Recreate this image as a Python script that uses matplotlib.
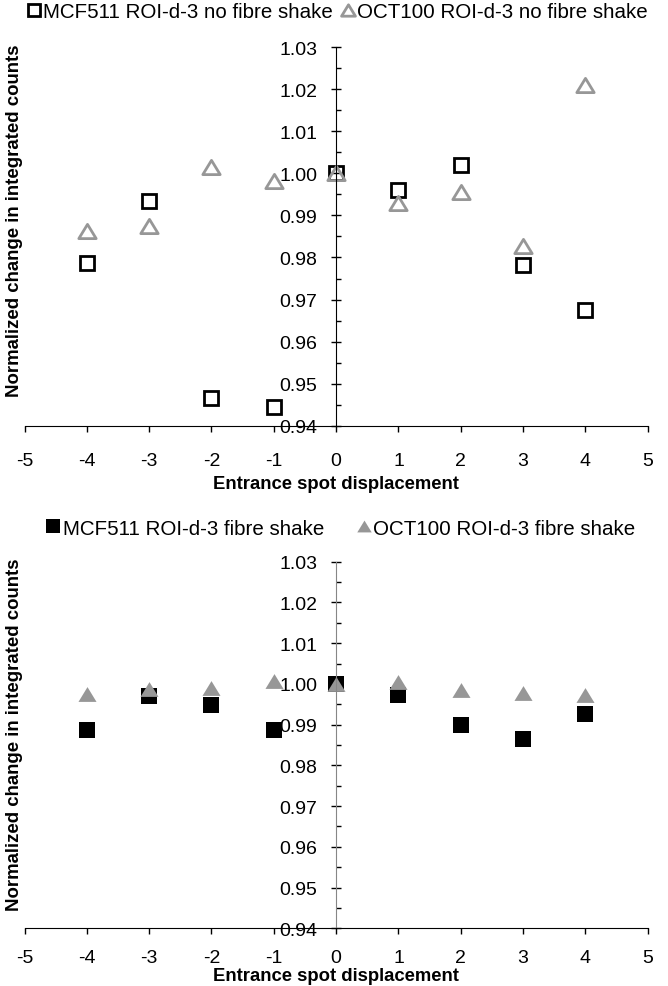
import numpy as np
import matplotlib
matplotlib.use('Agg')
import matplotlib.pyplot as plt
from matplotlib.path import Path
from matplotlib.ticker import FormatStrFormatter, MultipleLocator

plt.rcParams['font.family'] = ['Liberation Sans', 'DejaVu Sans']
plt.rcParams['axes.unicode_minus'] = False

displacement = [-4, -3, -2, -1, 0, 1, 2, 3, 4]
mcf_no_shake = [0.9786, 0.9935, 0.9466, 0.9444, 1.000, 0.9961, 1.0019, 0.9783, 0.9675]
oct_no_shake = [0.9863, 0.9874, 1.0016, 0.9982, 1.000, 0.9929, 0.9955, 0.9828, 1.0210]
mcf_shake = [0.9886, 0.9970, 0.9949, 0.9886, 1.000, 0.9972, 0.9900, 0.9865, 0.9927]
oct_shake = [0.9976, 0.9987, 0.9991, 1.0006, 1.000, 1.0005, 0.9986, 0.9978, 0.9973]

labels_top = ['MCF511 ROI-d-3 no fibre shake', 'OCT100 ROI-d-3 no fibre shake']
labels_bottom = ['MCF511 ROI-d-3 fibre shake', 'OCT100 ROI-d-3 fibre shake']

# slightly flattened triangle like the spreadsheet marker
tri = Path([(0, 0.82), (-1, -0.82), (1, -0.82), (0, 0.82)],
           [Path.MOVETO, Path.LINETO, Path.LINETO, Path.CLOSEPOLY])

GREY = '#979797'


def style_axes(ax, spine_color, xpad, xlabelpad):
    ax.set_xlim(-5, 5)
    ax.set_ylim(0.94, 1.03)
    ax.spines['left'].set_position(('data', 0))
    ax.spines['left'].set_color(spine_color)
    ax.spines['top'].set_visible(False)
    ax.spines['right'].set_visible(False)
    ax.set_xticks(range(-5, 6))
    ax.set_yticks(np.arange(0.94, 1.0301, 0.01))
    ax.yaxis.set_minor_locator(MultipleLocator(0.005))
    ax.yaxis.set_major_formatter(FormatStrFormatter('%.2f'))
    ax.tick_params(axis='y', which='major', direction='inout', length=7,
                   width=1, pad=10, labelsize=14)
    ax.tick_params(axis='y', which='minor', direction='in', length=3.6, width=1)
    ax.tick_params(axis='x', which='major', direction='out', length=4,
                   width=1, pad=xpad, labelsize=14)
    ax.set_xlabel('Entrance spot displacement', fontsize=13.3,
                  fontweight='bold', labelpad=xlabelpad)
    ax.set_ylabel('Normalized change in integrated counts', fontsize=13.4,
                  fontweight='bold')


fig = plt.figure(figsize=(6.68, 9.87), dpi=100)
ax1 = fig.add_axes([0.0367, 0.5677, 0.933, 0.3834])
ax2 = fig.add_axes([0.0367, 0.0585, 0.933, 0.3714])

# no fibre shake: open markers
ax1.plot(displacement, mcf_no_shake, ls='none', marker='s', ms=10,
         mfc='none', mec='black', mew=2, label=labels_top[0])
ax1.plot(displacement, oct_no_shake, ls='none', marker=tri, ms=12.5,
         mfc='none', mec=GREY, mew=2, label=labels_top[1])
style_axes(ax1, 'black', 15, 4)
ax1.yaxis.set_label_coords(-0.002, 0.545)
ax1.legend(loc='center', bbox_to_anchor=(0.505, 0.987), bbox_transform=fig.transFigure,
           ncol=2, frameon=False, fontsize=14.8, handlelength=0.7,
           handletextpad=0.1, columnspacing=0.4, markerscale=0.8,
           borderpad=0, borderaxespad=0)

# fibre shake: filled markers
ax2.plot(displacement, mcf_shake, ls='none', marker='s', ms=12,
         mfc='black', mec='black', mew=0, label=labels_bottom[0])
ax2.plot(displacement, oct_shake, ls='none', marker=tri, ms=13,
         mfc=GREY, mec=GREY, mew=0, label=labels_bottom[1])
style_axes(ax2, '#868686', 11, 1)
ax2.yaxis.set_label_coords(-0.002, 0.53)
ax2.legend(loc='center', bbox_to_anchor=(0.51, 0.464), bbox_transform=fig.transFigure,
           ncol=2, frameon=False, fontsize=14.8, handlelength=0.7,
           handletextpad=0.1, columnspacing=1.6, markerscale=0.8,
           borderpad=0, borderaxespad=0)

fig.savefig('out.png', dpi=100)
